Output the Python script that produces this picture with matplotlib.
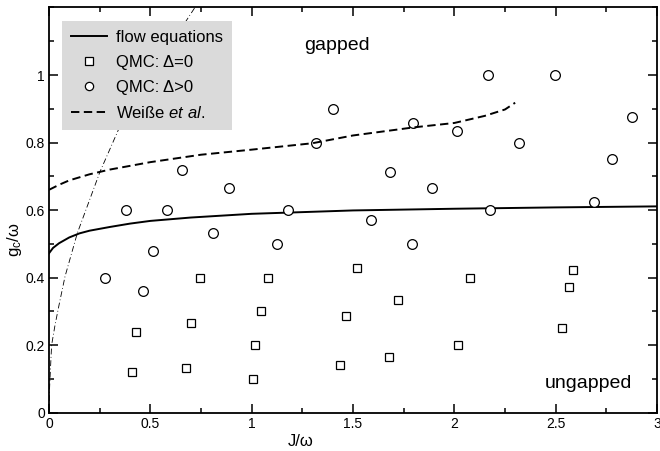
import numpy as np
import matplotlib
matplotlib.use('Agg')
import matplotlib.pyplot as plt
from matplotlib.ticker import MultipleLocator, FormatStrFormatter

# ── style ───────────────────────────────────────────────────────────────────
plt.rcParams.update({
    'font.family': 'Liberation Sans',
    'mathtext.fontset': 'custom',
    'mathtext.rm': 'Liberation Sans',
    'mathtext.it': 'Liberation Sans:italic',
    'axes.linewidth': 1.3,
    'xtick.direction': 'in',
    'ytick.direction': 'in',
    'xtick.top': True,
    'ytick.right': True,
})

# ── data ────────────────────────────────────────────────────────────────────
# flow equations, critical coupling
flow_J = [0, 0.02, 0.05, 0.1, 0.15, 0.2, 0.3, 0.4, 0.5, 0.7, 1.0, 1.5, 2.0, 2.5, 3.0]
flow_g = [0.472, 0.488, 0.502, 0.519, 0.531, 0.539, 0.550, 0.560, 0.568, 0.578,
          0.589, 0.599, 0.604, 0.608, 0.611]

# Weisse et al.
weisse_J = [0, 0.05, 0.1, 0.2, 0.3, 0.5, 0.75, 1.0, 1.3, 1.5, 1.8, 2.0, 2.15, 2.25, 2.3]
weisse_g = [0.660, 0.675, 0.688, 0.706, 0.720, 0.742, 0.764, 0.779, 0.798, 0.821,
            0.845, 0.858, 0.879, 0.898, 0.918]

# dash-dot guide line
dd_J = [0, 0.002, 0.005, 0.013, 0.03, 0.05, 0.079, 0.14, 0.252, 0.35, 0.5, 0.6, 0.72]
dd_g = [0, 0.06, 0.10, 0.20, 0.26, 0.32, 0.403, 0.532, 0.714, 0.848, 1.0, 1.09, 1.2]

# QMC, no gap
sq_J = [0.745, 1.079, 1.046, 0.699, 0.429, 1.018, 0.409, 0.674, 1.005,
        1.518, 2.077, 1.720, 1.467, 1.677, 1.437, 2.016, 2.587, 2.565, 2.529]
sq_g = [0.40, 0.40, 0.30, 0.266, 0.24, 0.20, 0.12, 0.133, 0.10,
        0.428, 0.40, 0.333, 0.285, 0.166, 0.142, 0.20, 0.424, 0.373, 0.25]

# QMC, gapped
ci_J = [0.278, 0.462, 0.513, 0.808, 1.123, 0.38, 0.58, 0.658, 0.886, 1.18, 1.317,
        1.403, 2.164, 2.496, 2.878, 1.794, 2.011, 2.317, 1.682, 1.888, 2.778,
        2.69, 2.177, 1.589, 1.789]
ci_g = [0.40, 0.36, 0.48, 0.533, 0.50, 0.60, 0.60, 0.72, 0.666, 0.60, 0.80,
        0.90, 1.0, 1.0, 0.875, 0.857, 0.833, 0.80, 0.714, 0.666, 0.75,
        0.625, 0.60, 0.571, 0.50]

# ── figure ──────────────────────────────────────────────────────────────────
fig = plt.figure(figsize=(6.6, 4.51), dpi=100)
ax = fig.add_axes([0.0742, 0.0849, 0.9213, 0.8985])

ax.plot(dd_J, dd_g, color='k', lw=0.6, ls=(0, (7, 3, 1, 3)))
ax.plot(flow_J, flow_g, color='k', lw=1.4, label='flow equations')
ax.plot(sq_J, sq_g, ls='none', marker='s', ms=6, mfc='white', mec='k', mew=0.9,
        label='QMC: Δ=0')
ax.plot(ci_J, ci_g, ls='none', marker='o', ms=7, mfc='white', mec='k', mew=0.9,
        label='QMC: Δ>0')
ax.plot(weisse_J, weisse_g, color='k', lw=1.4, ls=(0, (4.3, 2.3)),
        label='Weiße $\\mathit{et\\ al.}$')

ax.set_xlim(0, 3)
ax.set_ylim(0, 1.2)
ax.set_xticks([0, 0.5, 1, 1.5, 2, 2.5, 3])
ax.set_yticks([0, 0.2, 0.4, 0.6, 0.8, 1.0])
ax.xaxis.set_minor_locator(MultipleLocator(0.25))
ax.yaxis.set_minor_locator(MultipleLocator(0.1))
ax.xaxis.set_major_formatter(FormatStrFormatter('%g'))
ax.yaxis.set_major_formatter(FormatStrFormatter('%g'))
ax.tick_params(which='major', length=6.5, width=1.1, labelsize=10, pad=3)
ax.tick_params(which='minor', length=3.5, width=1.1)

ax.text(1.42, 1.087, 'gapped', fontsize=14, ha='center', va='center')
ax.text(2.875, 0.073, 'ungapped', fontsize=14, ha='right', va='baseline')

fig.text(301 / 660, 1 - 441 / 451, 'J/ω', fontsize=12, ha='center', va='center')
fig.text(15 / 660, 1 - 240 / 451, 'g$_\\mathrm{c}$/ω', fontsize=12, rotation=90,
         ha='center', va='center')

leg = ax.legend(loc='upper left', bbox_to_anchor=(0.021, 0.967), fontsize=12,
                frameon=True, fancybox=False, framealpha=1, facecolor='#dadada',
                edgecolor='none', borderpad=0.55, labelspacing=0.6,
                handlelength=2.15, handletextpad=0.55, borderaxespad=0,
                markerscale=0.85)
leg._legend_box.sep = 0

plt.savefig('out.png', dpi=100)
